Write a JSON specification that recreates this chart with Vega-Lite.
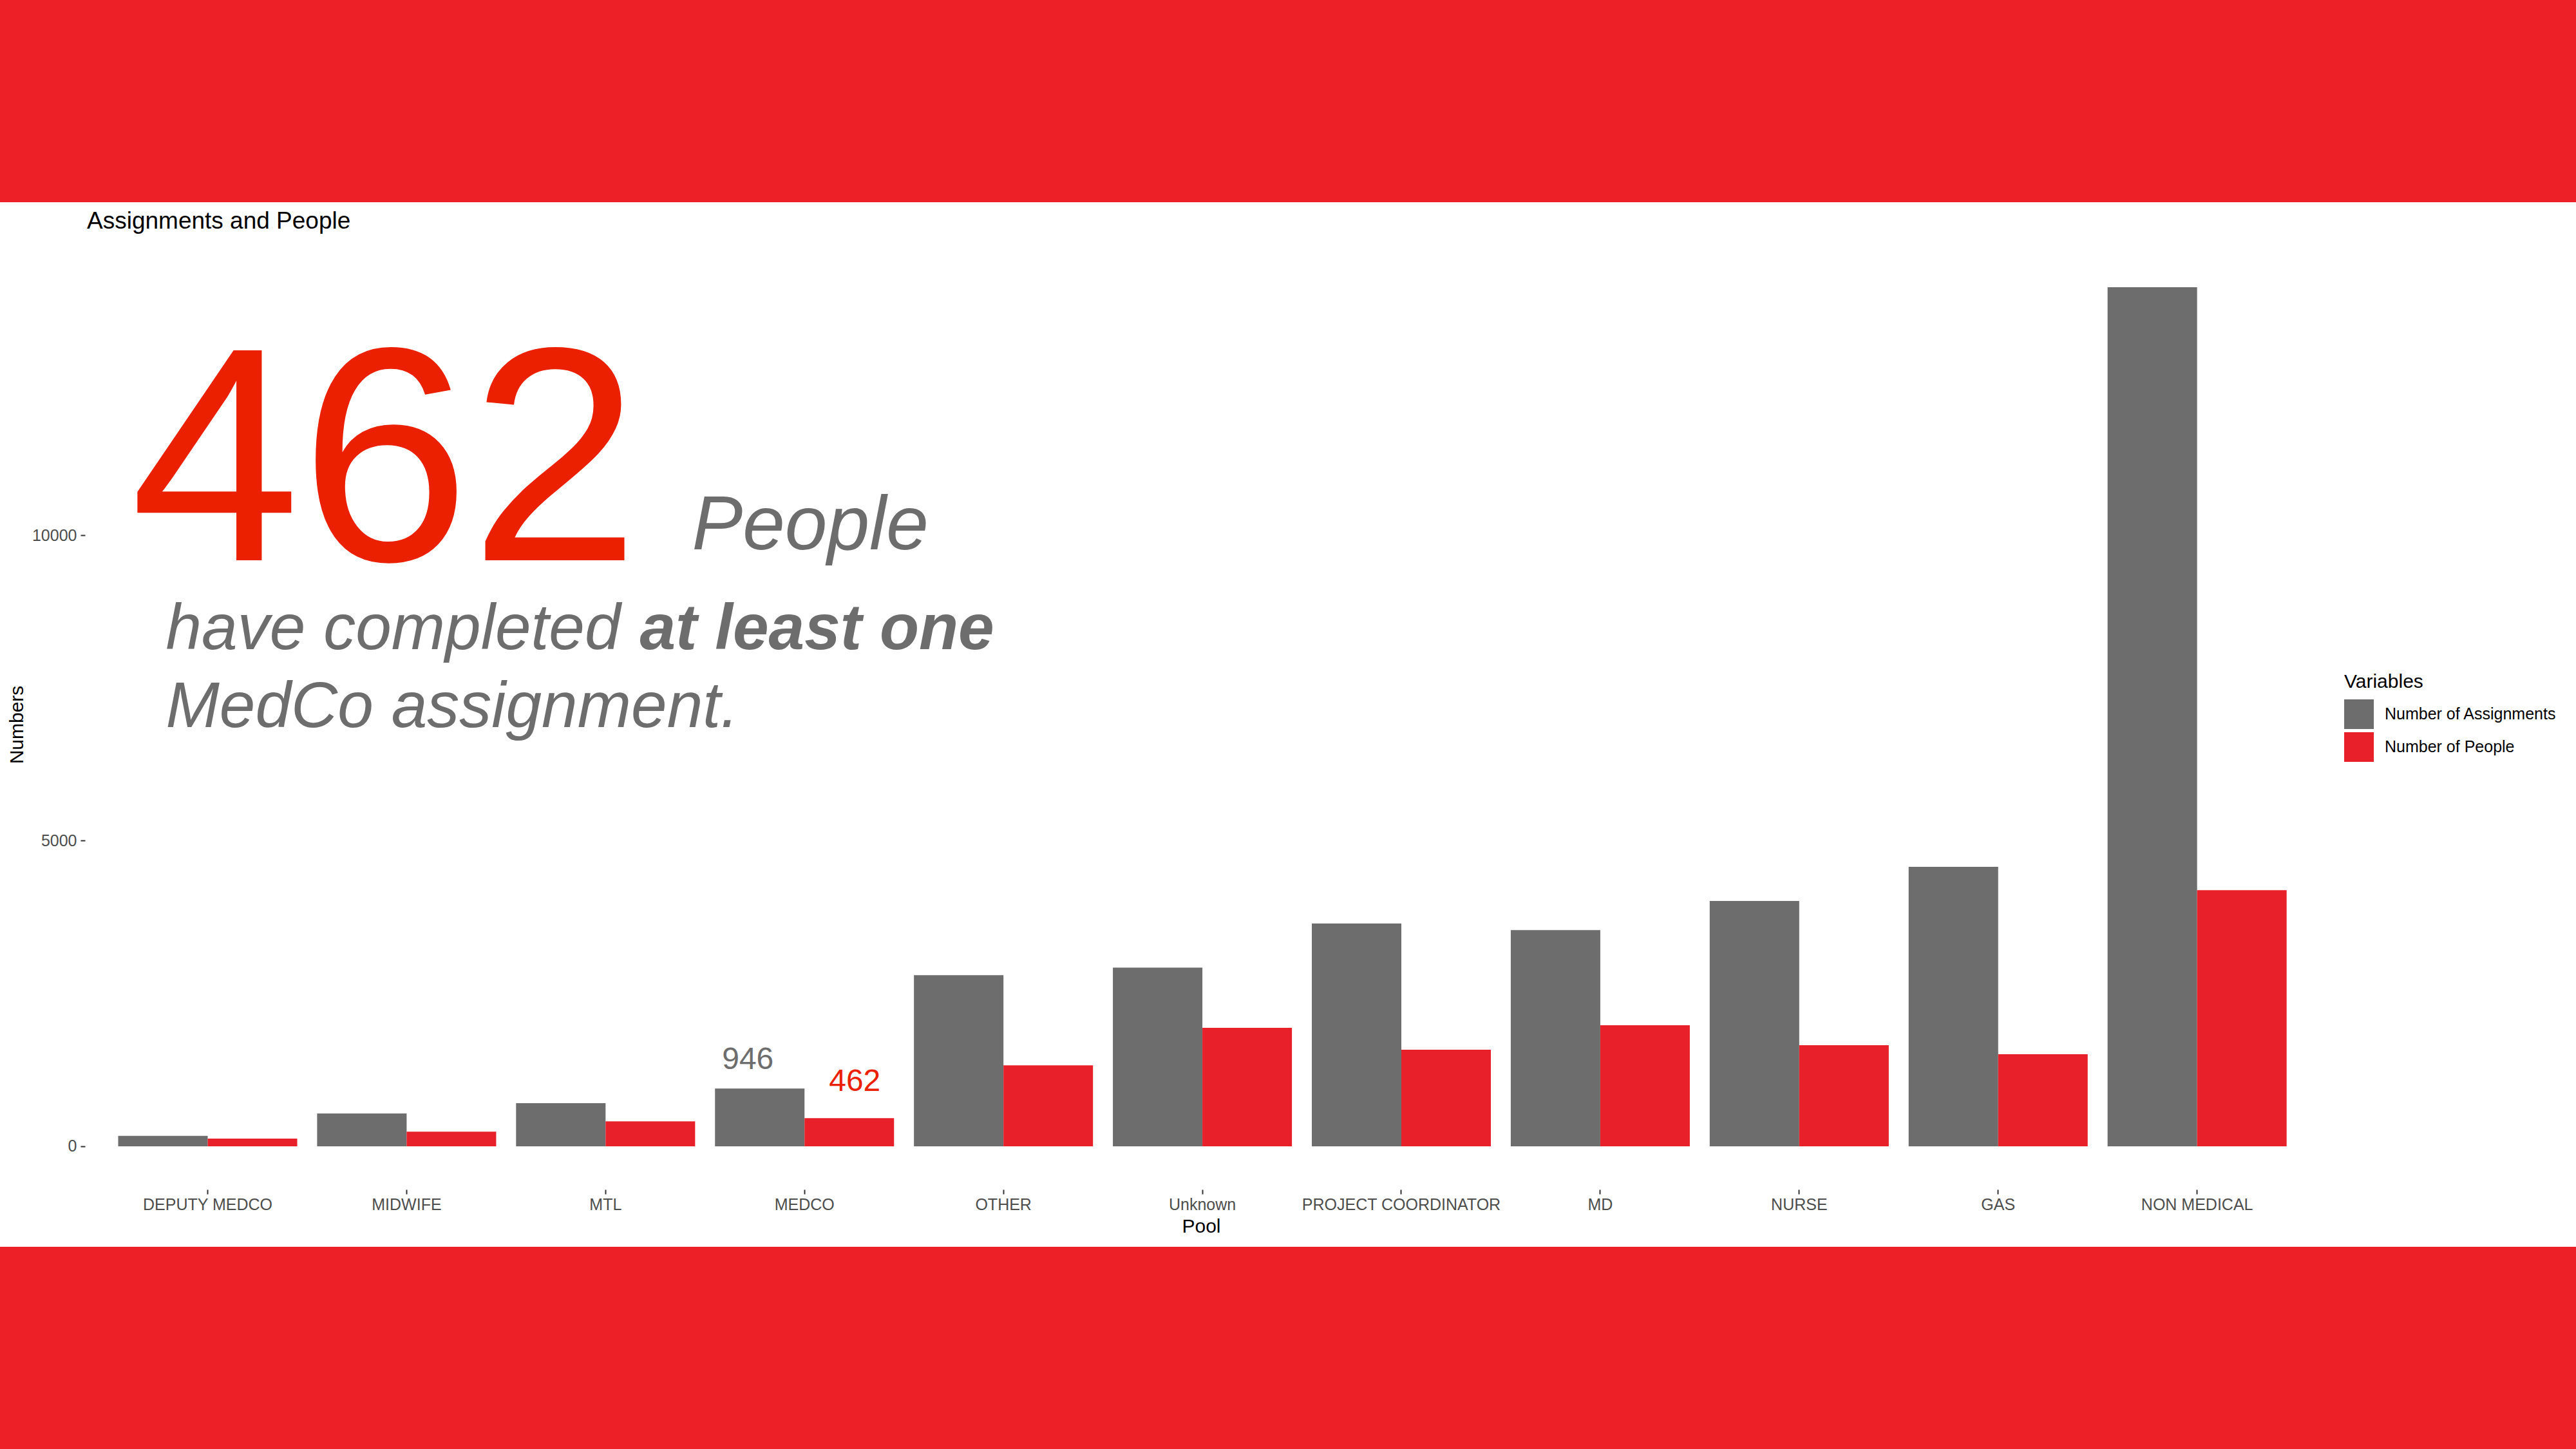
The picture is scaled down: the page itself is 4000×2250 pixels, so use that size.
{
  "$schema": "https://vega.github.io/schema/vega-lite/v6.json",
  "width": 4000,
  "height": 2250,
  "autosize": {"type": "none"},
  "padding": 0,
  "background": "#ED1F27",
  "title": {
    "text": "Assignments and People",
    "anchor": "start",
    "frame": "group",
    "orient": "top",
    "offset": -392,
    "dx": 135,
    "baseline": "alphabetic",
    "font": "Liberation Sans",
    "fontSize": 37,
    "fontWeight": "normal",
    "color": "#000000"
  },
  "config": {
    "view": {"stroke": null},
    "font": "Liberation Sans"
  },
  "layer": [
    {
      "data": {"values": [{}]},
      "mark": {"type": "rect", "color": "#FFFFFF"},
      "encoding": {
        "y": {"datum": 15448, "type": "quantitative"},
        "y2": {"datum": -1644}
      }
    },
    {
      "data": {
        "values": [
          {"Pool": "DEPUTY MEDCO", "Variable": "Number of Assignments", "Value": 170},
          {"Pool": "DEPUTY MEDCO", "Variable": "Number of People", "Value": 126},
          {"Pool": "MIDWIFE", "Variable": "Number of Assignments", "Value": 537},
          {"Pool": "MIDWIFE", "Variable": "Number of People", "Value": 240},
          {"Pool": "MTL", "Variable": "Number of Assignments", "Value": 706},
          {"Pool": "MTL", "Variable": "Number of People", "Value": 408},
          {"Pool": "MEDCO", "Variable": "Number of Assignments", "Value": 946},
          {"Pool": "MEDCO", "Variable": "Number of People", "Value": 462},
          {"Pool": "OTHER", "Variable": "Number of Assignments", "Value": 2800},
          {"Pool": "OTHER", "Variable": "Number of People", "Value": 1324},
          {"Pool": "Unknown", "Variable": "Number of Assignments", "Value": 2924},
          {"Pool": "Unknown", "Variable": "Number of People", "Value": 1939},
          {"Pool": "PROJECT COORDINATOR", "Variable": "Number of Assignments", "Value": 3646},
          {"Pool": "PROJECT COORDINATOR", "Variable": "Number of People", "Value": 1581},
          {"Pool": "MD", "Variable": "Number of Assignments", "Value": 3537},
          {"Pool": "MD", "Variable": "Number of People", "Value": 1981},
          {"Pool": "NURSE", "Variable": "Number of Assignments", "Value": 4015},
          {"Pool": "NURSE", "Variable": "Number of People", "Value": 1654},
          {"Pool": "GAS", "Variable": "Number of Assignments", "Value": 4573},
          {"Pool": "GAS", "Variable": "Number of People", "Value": 1507},
          {"Pool": "NON MEDICAL", "Variable": "Number of Assignments", "Value": 14057},
          {"Pool": "NON MEDICAL", "Variable": "Number of People", "Value": 4190}
        ]
      },
      "mark": {"type": "bar"},
      "encoding": {
        "x": {
          "field": "Pool",
          "type": "nominal",
          "sort": ["DEPUTY MEDCO", "MIDWIFE", "MTL", "MEDCO", "OTHER", "Unknown", "PROJECT COORDINATOR", "MD", "NURSE", "GAS", "NON MEDICAL"],
          "scale": {"range": [0, 3985], "paddingInner": 0.1, "paddingOuter": 1, "align": 0.297},
          "axis": {
            "orient": "bottom",
            "offset": -403,
            "zindex": 2,
            "title": "Pool",
            "titleX": 1865,
            "titleFont": "Liberation Sans",
            "titleFontSize": 30,
            "titleFontWeight": "normal",
            "titleColor": "#000000",
            "titlePadding": 6,
            "labelAngle": 0,
            "labelFont": "Liberation Sans",
            "labelFontSize": 25,
            "labelColor": "#4D4D4D",
            "labelPadding": 4,
            "labelLimit": 0,
            "tickSize": 7,
            "tickWidth": 2,
            "tickColor": "#333333",
            "domain": false,
            "grid": false
          }
        },
        "xOffset": {"field": "Variable", "type": "nominal", "sort": ["Number of Assignments", "Number of People"]},
        "y": {
          "field": "Value",
          "type": "quantitative",
          "scale": {"domain": [-4953, 18757], "nice": false, "zero": false},
          "axis": {
            "orient": "left",
            "offset": -132,
            "zindex": 2,
            "values": [0, 5000, 10000],
            "format": "d",
            "title": "Numbers",
            "titleFont": "Liberation Sans",
            "titleFontSize": 30,
            "titleFontWeight": "normal",
            "titleColor": "#000000",
            "titlePadding": 8,
            "labelFont": "Liberation Sans",
            "labelFontSize": 25,
            "labelColor": "#4D4D4D",
            "labelPadding": 6,
            "tickSize": 7,
            "tickWidth": 2,
            "tickColor": "#333333",
            "domain": false,
            "grid": false
          }
        },
        "y2": {"datum": 0},
        "color": {
          "field": "Variable",
          "type": "nominal",
          "scale": {"domain": ["Number of Assignments", "Number of People"], "range": ["#6D6D6D", "#E8202A"]},
          "legend": {
            "title": "Variables",
            "orient": "none",
            "legendX": 3640,
            "legendY": 1044,
            "titleFont": "Liberation Sans",
            "titleFontSize": 30,
            "titleFontWeight": "normal",
            "titleColor": "#000000",
            "titlePadding": 12,
            "labelFont": "Liberation Sans",
            "labelFontSize": 25,
            "labelColor": "#000000",
            "labelOffset": 17,
            "labelLimit": 0,
            "symbolType": "square",
            "symbolSize": 2116,
            "symbolStrokeWidth": 0,
            "rowPadding": 5
          }
        }
      }
    },
    {
      "data": {"values": [{}]},
      "mark": {"type": "text", "text": "462", "align": "left", "baseline": "alphabetic", "dx": -120, "fontSize": 474, "font": "Liberation Sans", "color": "#EB2000"},
      "encoding": {
        "x": {"datum": "DEPUTY MEDCO", "type": "nominal"},
        "y": {"datum": 9589, "type": "quantitative"}
      }
    },
    {
      "data": {"values": [{}]},
      "mark": {"type": "text", "text": "People", "align": "left", "baseline": "alphabetic", "dx": 752, "fontSize": 118, "fontStyle": "italic", "font": "Liberation Sans", "color": "#6D6D6D"},
      "encoding": {
        "x": {"datum": "DEPUTY MEDCO", "type": "nominal"},
        "y": {"datum": 9768, "type": "quantitative"}
      }
    },
    {
      "data": {"values": [{}]},
      "mark": {"type": "text", "text": "have completed", "align": "left", "baseline": "alphabetic", "dx": -65, "fontSize": 100, "fontStyle": "italic", "font": "Liberation Sans", "color": "#6D6D6D"},
      "encoding": {
        "x": {"datum": "DEPUTY MEDCO", "type": "nominal"},
        "y": {"datum": 8135, "type": "quantitative"}
      }
    },
    {
      "data": {"values": [{}]},
      "mark": {"type": "text", "text": "at least one", "align": "left", "baseline": "alphabetic", "dx": 671, "fontSize": 100, "fontStyle": "italic", "fontWeight": "bold", "font": "Liberation Sans", "color": "#6D6D6D"},
      "encoding": {
        "x": {"datum": "DEPUTY MEDCO", "type": "nominal"},
        "y": {"datum": 8135, "type": "quantitative"}
      }
    },
    {
      "data": {"values": [{}]},
      "mark": {"type": "text", "text": "MedCo assignment.", "align": "left", "baseline": "alphabetic", "dx": -65, "fontSize": 100, "fontStyle": "italic", "font": "Liberation Sans", "color": "#6D6D6D"},
      "encoding": {
        "x": {"datum": "DEPUTY MEDCO", "type": "nominal"},
        "y": {"datum": 6860, "type": "quantitative"}
      }
    },
    {
      "data": {"values": [{}]},
      "mark": {"type": "text", "text": "946", "align": "center", "baseline": "alphabetic", "dx": -88, "fontSize": 48, "font": "Liberation Sans", "color": "#6D6D6D"},
      "encoding": {
        "x": {"datum": "MEDCO", "type": "nominal"},
        "y": {"datum": 1264, "type": "quantitative"}
      }
    },
    {
      "data": {"values": [{}]},
      "mark": {"type": "text", "text": "462", "align": "center", "baseline": "alphabetic", "dx": 78, "fontSize": 48, "font": "Liberation Sans", "color": "#EB2000"},
      "encoding": {
        "x": {"datum": "MEDCO", "type": "nominal"},
        "y": {"datum": 906, "type": "quantitative"}
      }
    }
  ]
}
